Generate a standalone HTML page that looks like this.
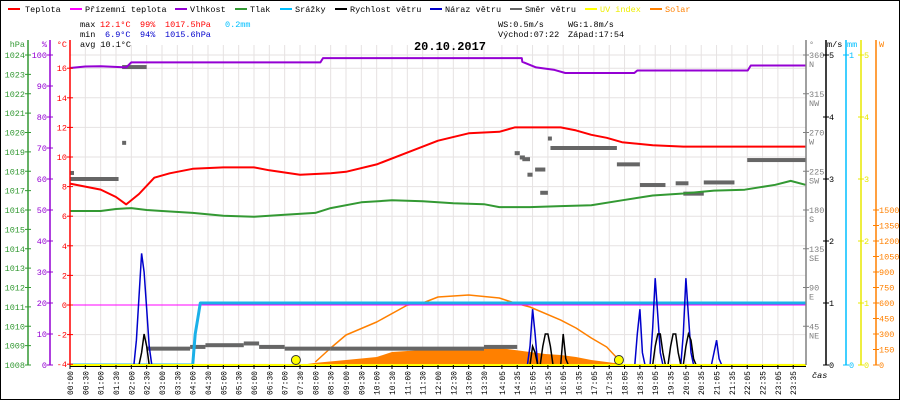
<!DOCTYPE html>
<html><head><meta charset="utf-8"><style>
html,body{margin:0;padding:0;background:#fff;}
svg{display:block;font-family:"Liberation Mono","DejaVu Sans Mono",monospace;}
</style></head><body>
<svg id="chart" width="900" height="400" viewBox="0 0 900 400" xmlns="http://www.w3.org/2000/svg">
<rect x="0.5" y="0.5" width="899" height="399" fill="#fff" stroke="#000"/>
<g id="grid"></g>
<g id="marks"></g>
<g id="axes"></g>
<g font-size="8.5">
 <g><rect x="8" y="8" width="12" height="2" fill="#f00"/><text x="25" y="12">Teplota</text></g>
 <g><rect x="70" y="8" width="12" height="2" fill="#f0f"/><text x="85" y="12">Přízemní teplota</text></g>
 <g><rect x="175" y="8" width="12" height="2" fill="#9400d3"/><text x="190" y="12">Vlhkost</text></g>
 <g><rect x="235" y="8" width="12" height="2" fill="#339933"/><text x="250" y="12">Tlak</text></g>
 <g><rect x="280" y="8" width="12" height="2" fill="#00bfff"/><text x="295" y="12">Srážky</text></g>
 <g><rect x="335" y="8" width="12" height="2" fill="#000"/><text x="350" y="12">Rychlost větru</text></g>
 <g><rect x="430" y="8" width="12" height="2" fill="#0000cc"/><text x="445" y="12">Náraz větru</text></g>
 <g><rect x="510" y="8" width="12" height="2" fill="#666"/><text x="525" y="12">Směr větru</text></g>
 <g><rect x="585" y="8" width="12" height="2" fill="#ff0"/><text x="600" y="12" fill="#ee0">UV index</text></g>
 <g><rect x="650" y="8" width="12" height="2" fill="#ff8000"/><text x="665" y="12" fill="#ff8000">Solar</text></g>
</g>
<g font-size="8.5">
 <text x="80" y="27">max</text><text x="100" y="27" fill="#f00">12.1°C</text><text x="140" y="27" fill="#f00">99%</text><text x="165" y="27" fill="#f00">1017.5hPa</text><text x="225" y="27" fill="#00bfff">0.2mm</text>
 <text x="80" y="37">min</text><text x="105" y="37" fill="#00c">6.9°C</text><text x="140" y="37" fill="#00c">94%</text><text x="165" y="37" fill="#00c">1015.6hPa</text>
 <text x="80" y="47">avg 10.1°C</text>
 <text x="498" y="27">WS:0.5m/s</text><text x="568" y="27">WG:1.8m/s</text>
 <text x="498" y="37">Východ:07:22</text><text x="568" y="37">Západ:17:54</text>
</g>
<text x="450" y="50" text-anchor="middle" font-size="12" font-weight="bold">20.10.2017</text>
<text x="812" y="378" font-size="8.5" font-style="italic">čas</text>
</svg>
<script>
// ---- data ----
const tempTimes = ["00:00","00:30","01:00","01:30","01:50","02:15","02:45","03:15","04:00","05:00","06:00","06:30","07:30","08:30","09:00","10:00","11:00","12:00","13:00","14:00","14:30","15:30","16:00","16:30","17:00","17:30","18:00","19:00","20:00","22:00","23:59"];
const tempVals = [8.2,8.0,7.8,7.3,6.8,7.5,8.6,8.9,9.2,9.3,9.3,9.1,8.8,8.9,9.0,9.5,10.3,11.1,11.6,11.7,12.0,12.0,12.0,11.8,11.5,11.3,11.0,10.8,10.7,10.7,10.7];
const feelsTimes = ["00:00","23:59"];
const feelsVals = [0,0];
const humTimes = ["00:00","00:30","01:00","01:50","02:00","08:10","08:15","14:44","14:45","15:12","15:48","16:09","18:24","18:30","22:06","22:12","23:59"];
const humVals = [95.8,96.3,96.4,96.0,97.6,97.6,99,99,97.8,96.0,95.2,94.2,94.2,95.0,95.0,96.6,96.6];
const presTimes = ["00:00","01:00","01:30","02:00","02:30","03:00","04:00","05:00","06:00","07:00","08:00","08:30","09:30","10:30","11:30","12:30","13:30","14:00","15:00","16:00","17:00","18:00","19:00","20:00","21:00","22:00","23:00","23:30","23:59"];
const presVals = [1015.95,1015.95,1016.05,1016.1,1016.0,1015.95,1015.85,1015.7,1015.65,1015.75,1015.85,1016.1,1016.4,1016.5,1016.45,1016.35,1016.3,1016.15,1016.15,1016.2,1016.25,1016.5,1016.75,1016.85,1017.0,1017.05,1017.3,1017.5,1017.3];
const rainTimes = ["00:00","04:00","04:05","04:10","04:15","23:59"];
const rainVals = [0,0,0.1,0.15,0.2,0.2];
const gustTimes = ["02:10","02:15","02:20","02:25","02:30","02:35","15:00","15:05","15:10","18:30","18:35","18:40","19:00","19:05","19:10","19:15","20:00","20:05","20:10","20:15","21:00","21:05","21:10"];
const gustVals = [0.4,1.1,1.8,1.5,0.9,0.3,0.3,0.9,0.5,0.5,0.9,0.2,0.6,1.4,0.8,0.2,0.5,1.4,0.8,0.2,0.2,0.4,0.1];
const speedTimes = ["02:20","02:25","02:30","15:05","15:10","15:25","15:30","15:35","15:40","16:05","16:10","19:05","19:10","19:15","19:20","19:35","19:40","19:45","19:50","20:05","20:10","20:15","20:20"];
const speedVals = [0.2,0.5,0.3,0.3,0.2,0.3,0.5,0.5,0.3,0.5,0.1,0.3,0.5,0.5,0.2,0.3,0.5,0.5,0.2,0.3,0.5,0.4,0.1];
const dirStarts = ["00:00","00:00","01:42","01:42","02:30","03:55","04:25","05:40","06:10","07:00","08:30","13:30","14:30","14:40","14:45","14:55","15:10","15:20","15:35","15:40","17:50","18:35","19:45","20:00","20:40","22:05"];
const dirEnds   = ["00:05","01:35","01:45","02:30","03:55","04:25","05:40","06:10","07:00","08:30","13:30","14:35","14:40","14:50","15:00","15:05","15:30","15:35","15:40","17:50","18:35","19:25","20:10","20:40","21:40","23:59"];
const dirVals   = [223,216,258,346,19,21,23,25,21,19,19,21,246,241,239,221,227,200,263,252,233,209,211,199,212,238];
const solarMaxTimes = ["08:00","08:30","09:00","10:00","11:00","11:30","12:00","13:00","14:00","14:30","15:00","16:00","16:30","17:00","17:30","17:54","18:00"];
const solarMaxVals = [29,165,290,416,580,600,658,677,648,600,561,435,358,261,174,48,0];
const solarTimes = ["07:30","08:00","09:00","10:00","10:30","11:30","12:00","13:00","14:00","14:30","15:00","15:30","16:00","16:30","17:00","17:30","18:00","18:05"];
const solarVals = [0,20,48,77,126,145,155,165,165,145,126,106,97,77,48,29,10,0];
const sunEvents = ["07:22","17:54"];
const xLabels = ["00:00","00:30","01:00","01:30","02:00","02:30","03:00","03:30","04:00","04:30","05:00","05:30","06:00","06:30","07:00","07:30","08:00","08:30","09:00","09:30","10:00","10:30","11:00","11:30","12:00","12:30","13:00","13:30","14:05","14:35","15:05","15:35","16:05","16:35","17:05","17:35","18:05","18:35","19:05","19:35","20:05","20:35","21:05","21:35","22:05","22:35","23:05","23:35"];
const tempTicks = [-4,-2,0,2,4,6,8,10,12,14,16];
const humTicks = [0,10,20,30,40,50,60,70,80,90,100];
const presTicks = [1008,1009,1010,1011,1012,1013,1014,1015,1016,1017,1018,1019,1020,1021,1022,1023,1024];
const dirTicks = [45,90,135,180,225,270,315,360];
const dirNames = ["NE","E","SE","S","SW","W","NW","N"];
const msTicks = [0,1,2,3,4,5];
const mmTicks = [0,1];
const uvTicks = [0,1,2,3,4,5];
const wTicks = [0,150,300,450,600,750,900,1050,1200,1350,1500];

// ---- scales ----
const X0=70, X1=806, YB=365, YT=55;
const H=YB-YT;
function hrs(s){const p=s.split(':');return +p[0]+ +p[1]/60;}
function X(t){return X0+hrs(t)*(X1-X0)/24;}
function yT(v){return 305 - v*14.8;}
function yH(v){return YB - v/100*H;}
function yP(v){return YB - (v-1008)/16*H;}
function yD(v){return YB - v/360*H;}
function yMS(v){return YB - v/5*H;}
function yMM(v){return YB - v*H;}
function yW(v){return YB - v*0.10333;}
const NS="http://www.w3.org/2000/svg";
function el(tag,attrs,parent){const e=document.createElementNS(NS,tag);for(const k in attrs)e.setAttribute(k,attrs[k]);parent.appendChild(e);return e;}
const grid=document.getElementById('grid'), marks=document.getElementById('marks'), axes=document.getElementById('axes');

// grid
xLabels.forEach(l=>{
  const g=el('line',{x1:X(l),x2:X(l),y1:YT-10,y2:YB,stroke:'#e6e2e2','stroke-width':1},grid);
  
  
});
tempTicks.forEach(v=>{
  const g=el('line',{x1:X0,x2:X1,y1:yT(v),y2:yT(v),stroke:'#e6e2e2','stroke-width':1},grid);
  
  
});
{const g=el('line',{x1:X0,x2:X1,y1:YT,y2:YT,stroke:'#e6e2e2'},grid);

}

function pts(times,vals,yf){return times.map((t,i)=>X(t).toFixed(1)+','+yf(vals[i]).toFixed(1)).join(' ');}
function line(times,vals,yf,color,w,name){
  const p=el('polyline',{points:pts(times,vals,yf),fill:'none',stroke:color,'stroke-width':w,'stroke-linejoin':'round'},marks);
  
  
  return p;
}
// solar measured area
{const p=solarTimes.map((t,i)=>X(t).toFixed(1)+','+yW(solarVals[i]).toFixed(1));
 const a=el('polygon',{points:X(solarTimes[0])+','+YB+' '+p.join(' ')+' '+X(solarTimes[solarTimes.length-1])+','+YB,fill:'#ff8000'},marks);
 
 }
line(solarMaxTimes,solarMaxVals,yW,'#ff8000',1.5,'solar-max-line');
// wind direction
dirVals.forEach((d,i)=>{
  const r=el('rect',{x:X(dirStarts[i]),y:yD(d)-2,width:Math.max(4,X(dirEnds[i])-X(dirStarts[i])),height:4,fill:'#666'},marks);
  
  
});
line(humTimes,humVals,yH,'#9400d3',2,'humidity-line');
line(presTimes,presVals,yP,'#339933',2,'pressure-line');
line(tempTimes,tempVals,yT,'#ff0000',2,'temperature-line');
line(feelsTimes,feelsVals,yT,'#ff00ff',1,'feels-like-line');
line(rainTimes,rainVals,yMM,'#1ab0e8',3,'rain-line');
// wind step series
function spikes(times,vals){
  const m={};times.forEach((t,i)=>m[Math.round(hrs(t)*12)]=vals[i]);
  const out=[];
  Object.keys(m).map(Number).sort((a,b)=>a-b).forEach(k=>{
    if(!(k-1 in m)){out.push([X0+(k-1)/12*(X1-X0)/24,0]);}
    out.push([X0+k/12*(X1-X0)/24,m[k]]);
    if(!(k+1 in m)){out.push([X0+(k+1)/12*(X1-X0)/24,0]);out.push(null);}
  });
  return out;
}
function drawSpikes(times,vals,color,name){
  let seg=[];
  spikes(times,vals).forEach(p=>{
    if(p===null){
      const pl=el('polyline',{points:seg.map(q=>q[0].toFixed(1)+','+yMS(q[1]).toFixed(1)).join(' '),fill:'none',stroke:color,'stroke-width':1.5},marks);
      
      
      seg=[];
    } else seg.push(p);
  });
}
drawSpikes(gustTimes,gustVals,'#0000cc','wind-gust-line');
drawSpikes(speedTimes,speedVals,'#000','wind-speed-line');
// UV baseline
{const u=el('line',{x1:X0,x2:X1,y1:YB,y2:YB,stroke:'#ffff00','stroke-width':2},marks);


const b=el('line',{x1:X0,x2:X1,y1:YB+1.5,y2:YB+1.5,stroke:'#000','stroke-width':1},marks);

}
sunEvents.forEach(t=>{
  const c=el('circle',{cx:X(t),cy:360,r:4.5,fill:'#ff0',stroke:'#333','stroke-width':1},marks);
  
  
});

// axes
function vaxis(x,color,ticks,yf,lblX,anchor,name,title,titleX,fmt,sub){
  const l=el('line',{x1:x,x2:x,y1:40,y2:YB,stroke:color,'stroke-width':1.5},axes);
  
  
  const tt=el('text',{x:titleX,y:47,fill:color,'font-size':8.5,'text-anchor':anchor},axes);
  tt.textContent=title;
  
  
  ticks.forEach((v,i)=>{
    const y=yf(v);
    el('line',{x1:x-3,x2:x+3,y1:y,y2:y,stroke:color},axes);
    const t=el('text',{x:lblX,y:y+3,fill:color,'font-size':8.5,'text-anchor':anchor},axes);
    t.textContent=fmt?fmt(v):v;
    
    
    if(sub){const s=el('text',{x:lblX,y:y+12,fill:color,'font-size':8.5,'text-anchor':anchor},axes);s.textContent=sub[i];
      
      }
  });
}
vaxis(28,'#339933',presTicks,yP,25,'end','pressure-axis','hPa',25);
vaxis(50,'#9400d3',humTicks,yH,47,'end','humidity-axis','%',47);
vaxis(70,'#ff0000',tempTicks,yT,67,'end','temperature-axis','°C',67);
vaxis(806,'#808080',dirTicks,yD,809,'start','direction-axis','°',809,null,dirNames);
vaxis(826,'#000',msTicks,yMS,829,'start','wind-speed-axis','m/s',827);
vaxis(846,'#00bfff',mmTicks,yMM,849,'start','rain-axis','mm',847);
vaxis(861,'#e8e800',uvTicks,yMS,864,'start','uv-axis','',864);
vaxis(876,'#ff8000',wTicks,yW,879,'start','solar-axis','W',879);
// x labels
xLabels.forEach(l=>{
  const x=X(l);
  el('line',{x1:x,x2:x,y1:YB,y2:YB+4,stroke:'#000'},axes);
  const t=el('text',{transform:'translate('+(x+3)+',371) rotate(-90)','text-anchor':'end','font-size':8,fill:'#000'},axes);
  t.textContent=l;
  
  
});
</script>
</body></html>
